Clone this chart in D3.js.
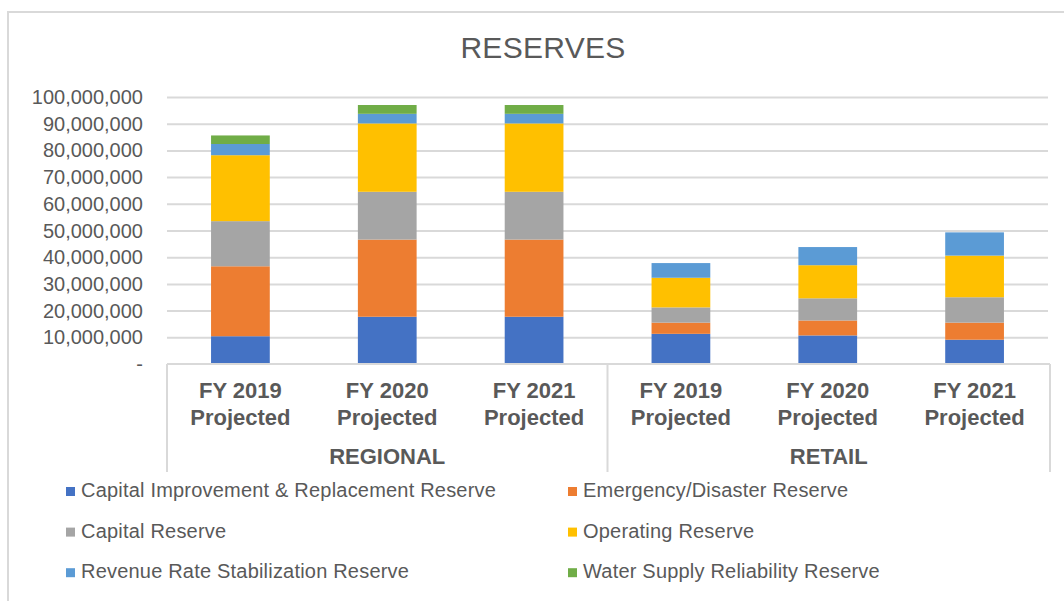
<html>
<head>
<script src="https://cdn.jsdelivr.net/npm/d3@7"></script>
<style>
  body { margin: 0; background: #fff; }
  text { font-family: "Liberation Sans", Arial, sans-serif; fill: #595959; }
  .gridlines line { stroke: #d9d9d9; stroke-width: 2; }
  .gridlines .domain { stroke: none; }
</style>
</head>
<body>
<svg id="chart" width="1064" height="601"></svg>
<script>
// chart values, in dollars
const groups = ["REGIONAL", "RETAIL"];
const years = ["FY 2019", "FY 2020", "FY 2021"];
const seriesNames = [
  "Capital Improvement & Replacement Reserve",
  "Emergency/Disaster Reserve",
  "Capital Reserve",
  "Operating Reserve",
  "Revenue Rate Stabilization Reserve",
  "Water Supply Reliability Reserve"
];
const colors = ["#4472C4", "#ED7D31", "#A5A5A5", "#FFC000", "#5B9BD5", "#70AD47"];
// one value per bar: regional 2019-2021, then retail 2019-2021
const capitalImprovement = [10400000, 17700000, 17700000, 11300000, 10700000, 9100000];
const emergencyDisaster  = [26200000, 28900000, 28900000, 4200000, 5600000, 6400000];
const capitalReserve     = [16900000, 17900000, 17900000, 5700000, 8300000, 9500000];
const operatingReserve   = [24700000, 25600000, 25600000, 11100000, 12400000, 15600000];
const revenueStabilize   = [4200000, 3600000, 3600000, 5500000, 6800000, 8700000];
const waterSupply        = [3200000, 3300000, 3300000, 0, 0, 0];
const yTicks = [0, 10000000, 20000000, 30000000, 40000000, 50000000, 60000000, 70000000, 80000000, 90000000, 100000000];

const seriesValues = [capitalImprovement, emergencyDisaster, capitalReserve, operatingReserve, revenueStabilize, waterSupply];

const svg = d3.select("svg#chart");

// table for stacking
let data = [];
groups.forEach((g, gi) => {
  years.forEach((y, yi) => {
    let row = {key: g + "|" + y, group: g, year: y};
    seriesNames.forEach((s, si) => { row[s] = seriesValues[si][gi * years.length + yi]; });
    data.push(row);
  });
});

const xScale = d3.scaleBand().domain(data.map(d => d.key)).range([167, 1048])
                 .paddingInner(0.6).paddingOuter(0.3);
const yScale = d3.scaleLinear().domain([0, 100000000]).range([364, 97]);

// chart border
svg.append("rect").attr("x", 8).attr("y", 12).attr("width", 1070).attr("height", 600)
   .attr("fill", "none").attr("stroke", "#d9d9d9").attr("stroke-width", 2);

// title
svg.append("text").attr("x", 543).attr("y", 58).attr("text-anchor", "middle")
   .style("font-size", "30px").style("letter-spacing", "0.3px").text("RESERVES");

// gridlines
let grid = d3.axisLeft(yScale).tickValues(yTicks.slice(1)).tickSize(-881).tickFormat("");
svg.append("g").attr("class", "gridlines").attr("transform", "translate(167,0)").call(grid);

// y labels
let fmt = d3.format(",");
svg.append("g").selectAll("text").data(yTicks).join("text")
   .attr("x", 143).attr("y", d => yScale(d) + 7)
   .attr("text-anchor", "end")
   .style("font-size", "20px")
   .text(d => d === 0 ? "-" : fmt(d));

// stacked bars
const stack = d3.stack().keys(seriesNames);
const layers = stack(data);
svg.append("g").selectAll("g").data(layers).join("g")
   .attr("fill", (d, i) => colors[i])
   .selectAll("rect").data(d => d).join("rect")
   .attr("x", d => xScale(d.data.key))
   .attr("width", xScale.bandwidth())
   .attr("y", d => yScale(d[1]))
   .attr("height", d => yScale(d[0]) - yScale(d[1]));

// category axis box
const axisG = svg.append("g").attr("stroke", "#d9d9d9").attr("stroke-width", 2);
const split = (xScale(data[2].key) + xScale.bandwidth() + xScale(data[3].key)) / 2;
axisG.append("line").attr("x1", 167).attr("x2", 1050).attr("y1", 364).attr("y2", 364);
[167, split, 1050].forEach(xv => {
  axisG.append("line").attr("x1", xv).attr("x2", xv).attr("y1", 364).attr("y2", 472);
});

let catLabels = svg.append("g").style("font-size", "22px").style("font-weight", "bold");
data.forEach(d => {
  let cx = xScale(d.key) + xScale.bandwidth() / 2;
  catLabels.append("text").attr("x", cx).attr("y", 398).attr("text-anchor", "middle").text(d.year);
  catLabels.append("text").attr("x", cx).attr("y", 425).attr("text-anchor", "middle").text("Projected");
});
groups.forEach((g, gi) => {
  let left = gi === 0 ? 167 : split;
  let right = gi === 0 ? split : 1050;
  catLabels.append("text").attr("x", (left + right) / 2).attr("y", 464).attr("text-anchor", "middle").text(g);
});

// legend
let legend = svg.append("g");
seriesNames.forEach((s, i) => {
  let col = i % 2, row = Math.floor(i / 2);
  let lx = col === 0 ? 66 : 568;
  let ly = 497 + row * 40.6;
  legend.append("rect").attr("x", lx).attr("y", ly - 10).attr("width", 9).attr("height", 9).attr("fill", colors[i]);
  legend.append("text").attr("x", lx + 15).attr("y", ly).style("font-size", "20px")
        .style("letter-spacing", "0.2px").text(s);
});
</script>
</body>
</html>
